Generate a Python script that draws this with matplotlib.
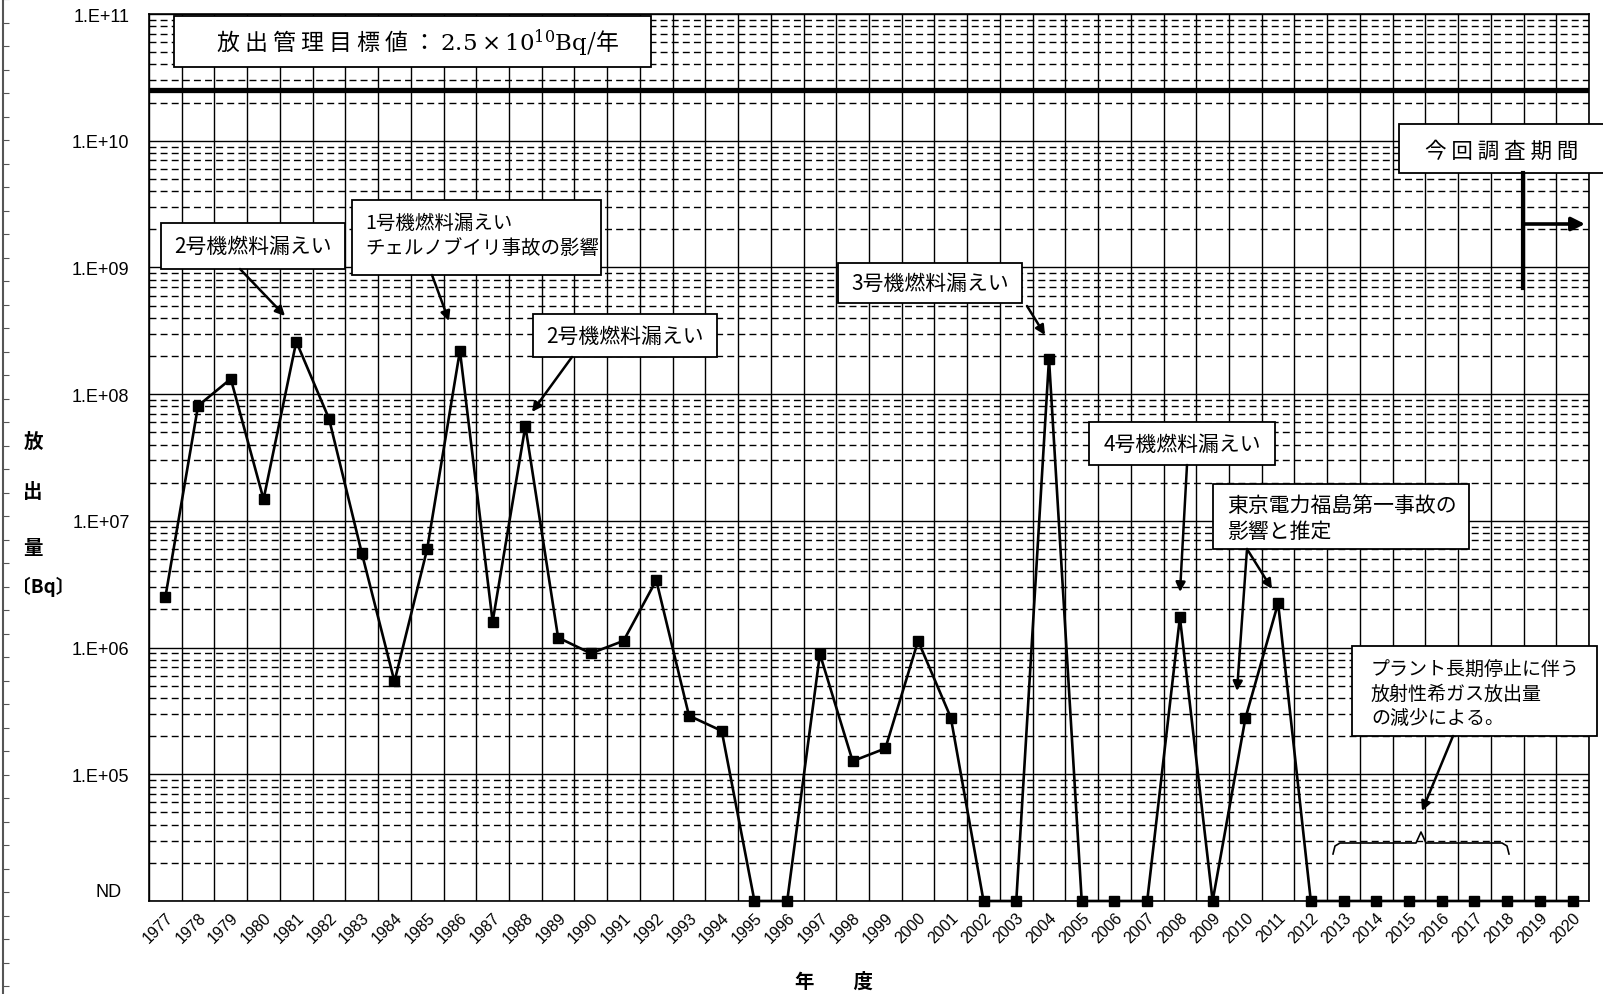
import numpy as np
import matplotlib
matplotlib.use("Agg")
from matplotlib import pyplot as plt
from matplotlib.patches import Rectangle
from matplotlib.lines import Line2D
from matplotlib.ticker import MultipleLocator, FixedLocator, NullFormatter
import matplotlib.transforms as mtrans

plt.rcParams['font.family'] = ['Noto Sans CJK JP', 'DejaVu Sans']
plt.rcParams['mathtext.fontset'] = 'dejavuserif'

# data (None = ND)
years = list(range(1977, 2021))
release = [2.5e6, 8.1e7, 1.32e8, 1.48e7, 2.6e8, 6.4e7, 5.6e6, 5.4e5, 6.0e6, 2.2e8,
           1.6e6, 5.6e7, 1.2e6, 9.0e5, 1.13e6, 3.4e6, 2.9e5, 2.2e5, None, None,
           8.9e5, 1.27e5, 1.6e5, 1.13e6, 2.8e5, None, None, 1.9e8, None, None,
           None, 1.73e6, None, 2.76e5, 2.24e6, None, None, None, None, None,
           None, None, None, None]
nd_level = 1e4
target = 2.5e10
ytick_vals = [1e4, 1e5, 1e6, 1e7, 1e8, 1e9, 1e10, 1e11]
ytick_labels = ['ND', '1.E+05', '1.E+06', '1.E+07', '1.E+08', '1.E+09', '1.E+10', '1.E+11']

W, H = 1603, 995
fig = plt.figure(figsize=(W / 100, H / 100), dpi=100)
ax = fig.add_axes([149 / W, 1 - 902 / H, (1589 - 149) / W, (902 - 15) / H])

x = np.arange(len(years))
y = [v if v is not None else nd_level for v in release]
ax.plot(x, y, color='k', lw=1.9, marker='s', ms=6.5, clip_on=False, zorder=5)
ax.axhline(target, color='k', lw=3.8, zorder=4)

ax.set_yscale('log')
ax.set_ylim(1e4, 1e11)
ax.set_xlim(-0.5, len(years) - 0.5)

ax.set_yticks(ytick_vals)
ax.set_yticklabels(ytick_labels, family='Liberation Sans', fontsize=13)
ax.yaxis.set_minor_locator(FixedLocator(
    [m * 10 ** e for e in range(4, 11) for m in range(2, 10)]))
ax.yaxis.set_minor_formatter(NullFormatter())
ax.set_xticks(x)
ax.set_xticklabels([str(yr) for yr in years], rotation=45, ha='right',
                   rotation_mode='anchor', family='Liberation Sans', fontsize=11.5)
ax.set_xticks(np.arange(-0.5, len(years), 1), minor=True)
ax.tick_params(axis='both', which='both', length=0)
ax.tick_params(axis='y', pad=14)
ax.tick_params(axis='x', pad=6)

# ND label sits a little higher than the axis bottom
nd_lab = ax.get_yticklabels()[0]
nd_lab.set_transform(nd_lab.get_transform() +
                     mtrans.ScaledTranslation(-6 / 72, 8 / 72, fig.dpi_scale_trans))

ax.xaxis.grid(True, which='minor', color='k', lw=1.0, ls='-')
ax.yaxis.grid(True, which='major', color='k', lw=1.0, ls='-')
ax.yaxis.grid(True, which='minor', color='k', lw=1.0, ls=(0, (5, 3)))
ax.set_axisbelow(True)
for s in ax.spines.values():
    s.set_linewidth(1.2)


def fx(px):
    return px / W


def fy(py):
    return 1 - py / H


def box(x0, y0, x1, y1, text=None, fs=15, align='center', tx=None, ty=None):
    fig.add_artist(Rectangle((fx(x0), fy(y1)), fx(x1) - fx(x0), fy(y0) - fy(y1),
                             transform=fig.transFigure, facecolor='white',
                             edgecolor='k', lw=1.3, zorder=6))
    if text is not None:
        if tx is None:
            tx = (x0 + x1) / 2
        if ty is None:
            ty = (y0 + y1) / 2
        fig.text(fx(tx), fy(ty), text, fontsize=fs, ha=align, va='center',
                 transform=fig.transFigure, zorder=7, linespacing=1.2)


def arrow(x0, y0, x1, y1, lw=1.8, ms=14):
    fig.add_artist(matplotlib.patches.FancyArrowPatch(
        (fx(x0), fy(y0)), (fx(x1), fy(y1)), transform=fig.transFigure,
        arrowstyle='-|>', mutation_scale=ms, lw=lw, color='k',
        shrinkA=0, shrinkB=0, zorder=6))


# target label box
box(174, 17, 651, 68)
fig.text(fx(418), fy(43),
         '放 出 管 理 目 標 値 ： $2.5\\times10^{10}\\mathrm{Bq}$/年',
         fontsize=16.5, ha='center', va='center', zorder=7)

box(161, 224, 345, 270, '2号機燃料漏えい')
arrow(240, 270, 285, 317)

box(352, 201, 601, 276, '1号機燃料漏えい\nチェルノブイリ事故の影響', fs=14,
    align='left', tx=365, ty=236)
arrow(432, 276, 449, 322)

box(533, 315, 717, 358, '2号機燃料漏えい')
arrow(572, 358, 532, 413)

box(838, 264, 1022, 304, '3号機燃料漏えい')
arrow(1027, 307, 1045, 336)

box(1089, 423, 1275, 466, '4号機燃料漏えい')
arrow(1187, 466, 1180, 593)

box(1213, 485, 1469, 550, '東京電力福島第一事故の\n影響と推定', fs=15,
    align='left', tx=1227, ty=519)
arrow(1247, 550, 1237, 692)
arrow(1247, 550, 1272, 590)

box(1399, 125, 1610, 174, '今 回 調 査 期 間', fs=15.5, tx=1502, ty=152)
fig.add_artist(Line2D([fx(1523), fx(1523)], [fy(174), fy(289)],
                      transform=fig.transFigure, color='k', lw=3, zorder=6))
arrow(1523, 225, 1585, 225, lw=2.6, ms=20)

box(1352, 647, 1597, 737, 'プラント長期停止に伴う\n放射性希ガス放出量\nの減少による。',
    fs=13.7, align='left', tx=1371, ty=694)
arrow(1453, 737, 1422, 812)

# brace under the arrow
bx = [1333, 1335, 1340, 1416, 1421, 1426, 1502, 1507, 1509]
by = [855, 847, 844, 844, 833, 844, 844, 847, 855]
fig.add_artist(Line2D([fx(v) for v in bx], [fy(v) for v in by],
                      transform=fig.transFigure, color='k', lw=1.2, zorder=6))

# axis titles
for ch, yy in zip(['放', '出', '量'], [442, 493, 548]):
    fig.text(fx(33), fy(yy), ch, fontsize=14, fontweight='bold',
             ha='center', va='center')
fig.text(fx(43), fy(587), '〔Bq〕', fontsize=13.5, fontweight='bold',
         ha='center', va='center')
fig.text(fx(834), fy(982), '年　　度', fontsize=14, fontweight='bold',
         ha='center', va='center')

# stray frame edge at the far left
lax = fig.add_axes([3 / W, 0, 0.01, 1])
lax.set_ylim(H, 0)
lax.set_xlim(0, 1)
for k in ['top', 'right', 'bottom']:
    lax.spines[k].set_visible(False)
lax.spines['left'].set_color('#555555')
lax.spines['left'].set_linewidth(1.5)
lax.patch.set_visible(False)
lax.set_xticks([])
lax.yaxis.set_major_locator(MultipleLocator(23.5))
lax.tick_params(axis='y', direction='in', length=4, color='#555555',
                labelleft=False)

fig.savefig('out.png', dpi=100)
